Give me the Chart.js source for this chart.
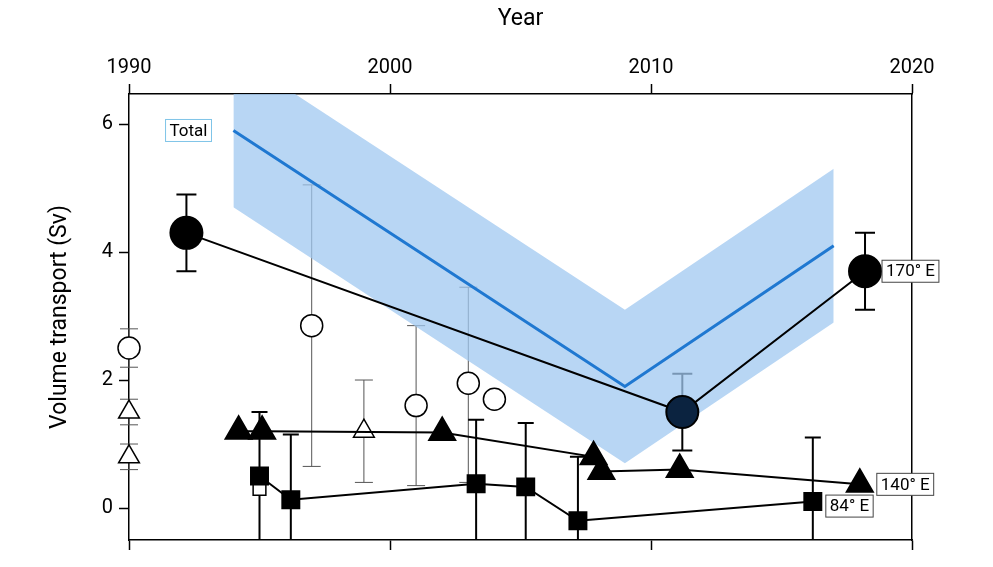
<!DOCTYPE html>
<html><head><meta charset="utf-8">
<script src="https://cdn.jsdelivr.net/npm/chart.js@4/dist/chart.umd.min.js"></script>
<style>body{margin:0;background:#fff}#wrap{width:993px;height:567px}</style>
</head><body><div id="wrap"><canvas id="c"></canvas></div>
<script>
// data
const totalYears = [1994, 2009, 2017];
const totalMean = [5.9, 1.9, 4.1];
const totalLow = [4.7, 0.7, 2.9];
const totalHigh = [7.1, 3.1, 5.3];

const e170Years = [1992.2, 2011.2, 2018.2];
const e170Vals = [4.3, 1.5, 3.7];
const e170Err = [0.6, 0.6, 0.6];

const e140Years = [1994.2, 1995.1, 2002.0, 2007.8, 2008.1, 2011.1, 2018.0];
const e140Vals = [1.2, 1.2, 1.18, 0.8, 0.57, 0.6, 0.37];

const e84Years = [1995.0, 1996.2, 2003.3, 2005.2, 2007.2, 2016.2];
const e84Vals = [0.5, 0.13, 0.38, 0.33, -0.2, 0.1];
const e84Lo = [-0.5, -0.6, -0.6, -0.6, -0.6, -0.6];
const e84Hi = [1.5, 1.15, 1.38, 1.33, 0.8, 1.1];

const openCircYears = [1990.0, 1997.0, 2001.0, 2003.0, 2004.0];
const openCircVals = [2.5, 2.85, 1.6, 1.95, 1.7];
const openCircLo = [2.2, 0.65, 0.35, 0.4, null];
const openCircHi = [2.8, 5.05, 2.85, 3.45, null];

const openTriYears = [1990.0, 1990.0, 1999.0];
const openTriVals = [1.5, 0.8, 1.2];
const openTriLo = [1.3, 0.6, 0.4];
const openTriHi = [1.7, 1.0, 2.0];

const openSqYears = [1995.0];
const openSqVals = [0.3];

const xTicks = [1990, 2000, 2010, 2020];
const yTicks = [0, 2, 4, 6];

const pts = (xs, ys) => xs.map((x, i) => ({x, y: ys[i]}));

// error bars: [xs, lo, hi, width, capHalf, colour]
const errBars = [
  [openCircYears, openCircLo, openCircHi, 1, 9, '#555'],
  [openTriYears, openTriLo, openTriHi, 1, 9, '#555'],
  [e84Years, e84Lo, e84Hi, 2, 8, '#000'],
  [e170Years, e170Vals.map((v, i) => v - e170Err[i]), e170Vals.map((v, i) => v + e170Err[i]), 2, 10, '#000']
];

const decor = {
  id: 'decor',
  beforeDatasetsDraw(ch) {
    const {ctx, scales: {x, y}, chartArea: a} = ch;
    ctx.save();
    ctx.beginPath(); ctx.rect(a.left - 20, a.top, a.right - a.left + 40, a.bottom - a.top); ctx.clip();
    errBars.forEach(([xs, lo, hi, w, cap, col]) => {
      ctx.strokeStyle = col; ctx.lineWidth = w;
      xs.forEach((xv, i) => {
        if (lo[i] == null) return;
        const px = x.getPixelForValue(xv), p1 = y.getPixelForValue(lo[i]), p2 = y.getPixelForValue(hi[i]);
        ctx.beginPath();
        ctx.moveTo(px, p1); ctx.lineTo(px, p2);
        ctx.moveTo(px - cap, p1); ctx.lineTo(px + cap, p1);
        ctx.moveTo(px - cap, p2); ctx.lineTo(px + cap, p2);
        ctx.stroke();
      });
    });
    ctx.restore();
  },
  afterDraw(ch) {
    const {ctx, scales: {x, y}} = ch;
    ctx.save();
    ctx.font = '17px Roboto, sans-serif';
    ctx.textBaseline = 'middle';
    const label = (t, xv, yv, dx, border) => {
      const px = x.getPixelForValue(xv) + dx, py = y.getPixelForValue(yv);
      const w = ctx.measureText(t).width + 8;
      ctx.fillStyle = '#fff'; ctx.fillRect(px, py - 11, w, 22);
      ctx.strokeStyle = border; ctx.lineWidth = 1; ctx.strokeRect(px, py - 11, w, 22);
      ctx.fillStyle = '#000'; ctx.fillText(t, px + 4, py + 1);
    };
    label('Total', 1991.4, 5.9, 0, '#7fc4e8');
    label('170° E', 2018.2, 3.7, 17, '#444');
    label('140° E', 2018.0, 0.37, 17, '#444');
    label('84° E', 2016.2, 0.03, 13, '#444');
    ctx.restore();
  }
};

const noClip = {left: 20, right: 20, top: 0, bottom: 0};

new Chart(document.getElementById('c'), {
  type: 'scatter',
  data: {
    datasets: [
      {data: pts(totalYears, totalHigh), showLine: true, borderWidth: 0, pointRadius: 0, backgroundColor: 'rgba(160,200,240,0.75)', fill: '+1', order: 10},
      {data: pts(totalYears, totalLow), showLine: true, borderWidth: 0, pointRadius: 0, fill: false, order: 10},
      {data: pts(totalYears, totalMean), showLine: true, borderColor: '#1f78d1', borderWidth: 3, pointRadius: 0, order: 9},
      {data: pts(e84Years, e84Vals), showLine: true, borderColor: '#000', borderWidth: 2, pointStyle: 'rect', pointRadius: 12, backgroundColor: '#000', order: 3, clip: noClip},
      {data: pts(e140Years, e140Vals), showLine: true, borderColor: '#000', borderWidth: 2, pointStyle: 'triangle', pointRadius: 15, backgroundColor: '#000', order: 2, clip: noClip},
      {data: pts(e170Years, e170Vals), showLine: true, borderColor: '#000', borderWidth: 2, pointStyle: 'circle', pointRadius: 16, backgroundColor: '#000', pointBackgroundColor: ['#000', '#0b2340', '#000'], order: 1, clip: noClip},
      {data: pts(openCircYears, openCircVals), pointStyle: 'circle', pointRadius: 11, backgroundColor: '#fff', borderColor: '#000', borderWidth: 1.5, order: 4, clip: noClip},
      {data: pts(openTriYears, openTriVals), pointStyle: 'triangle', pointRadius: 12, backgroundColor: '#fff', borderColor: '#000', borderWidth: 1.5, order: 4, clip: noClip},
      {data: pts(openSqYears, openSqVals), pointStyle: 'rect', pointRadius: 9, backgroundColor: '#fff', borderColor: '#000', borderWidth: 1.5, order: 5, clip: noClip}
    ]
  },
  options: {
    responsive: true, maintainAspectRatio: false, animation: false,
    layout: {padding: {right: 81, left: 0, top: 0, bottom: 0}},
    plugins: {legend: {display: false}, tooltip: {enabled: false}},
    scales: {
      x: {
        type: 'linear', position: 'top', min: 1990, max: 2020,
        afterBuildTicks: s => { s.ticks = xTicks.map(v => ({value: v})); },
        afterFit: s => { s.height = 94; },
        ticks: {color: '#000', font: {size: 20, family: 'Roboto'}, padding: 4, callback: v => String(v)},
        grid: {drawOnChartArea: false, color: '#000', tickLength: 10, tickWidth: 1.5},
        border: {color: '#000', width: 1.5},
        title: {display: true, text: 'Year', color: '#000', font: {size: 23, family: 'Roboto'}, padding: {top: 5, bottom: 4}}
      },
      x2: {
        type: 'linear', position: 'bottom', min: 1990, max: 2020,
        afterBuildTicks: s => { s.ticks = xTicks.map(v => ({value: v})); },
        afterFit: s => { s.height = 27; },
        ticks: {display: false},
        grid: {drawOnChartArea: false, color: '#000', tickLength: 10, tickWidth: 1.5},
        border: {color: '#000', width: 1.5}
      },
      y: {
        min: -0.5, max: 6.47,
        afterBuildTicks: s => { s.ticks = yTicks.map(v => ({value: v})); },
        afterFit: s => { s.width = 129; },
        ticks: {color: '#000', font: {size: 20, family: 'Roboto'}, padding: 6, callback: v => String(v)},
        grid: {drawOnChartArea: false, color: '#000', tickLength: 10, tickWidth: 1.5},
        border: {color: '#000', width: 1.5},
        title: {display: true, text: 'Volume transport (Sv)', color: '#000', font: {size: 23, family: 'Roboto'}, padding: {top: 46, bottom: 0}}
      },
      y2: {
        position: 'right', min: -0.5, max: 6.47,
        ticks: {display: false}, grid: {display: false},
        border: {color: '#000', width: 1.5},
        afterFit: s => { s.width = 0; }
      }
    }
  },
  plugins: [decor]
});
</script></body></html>
